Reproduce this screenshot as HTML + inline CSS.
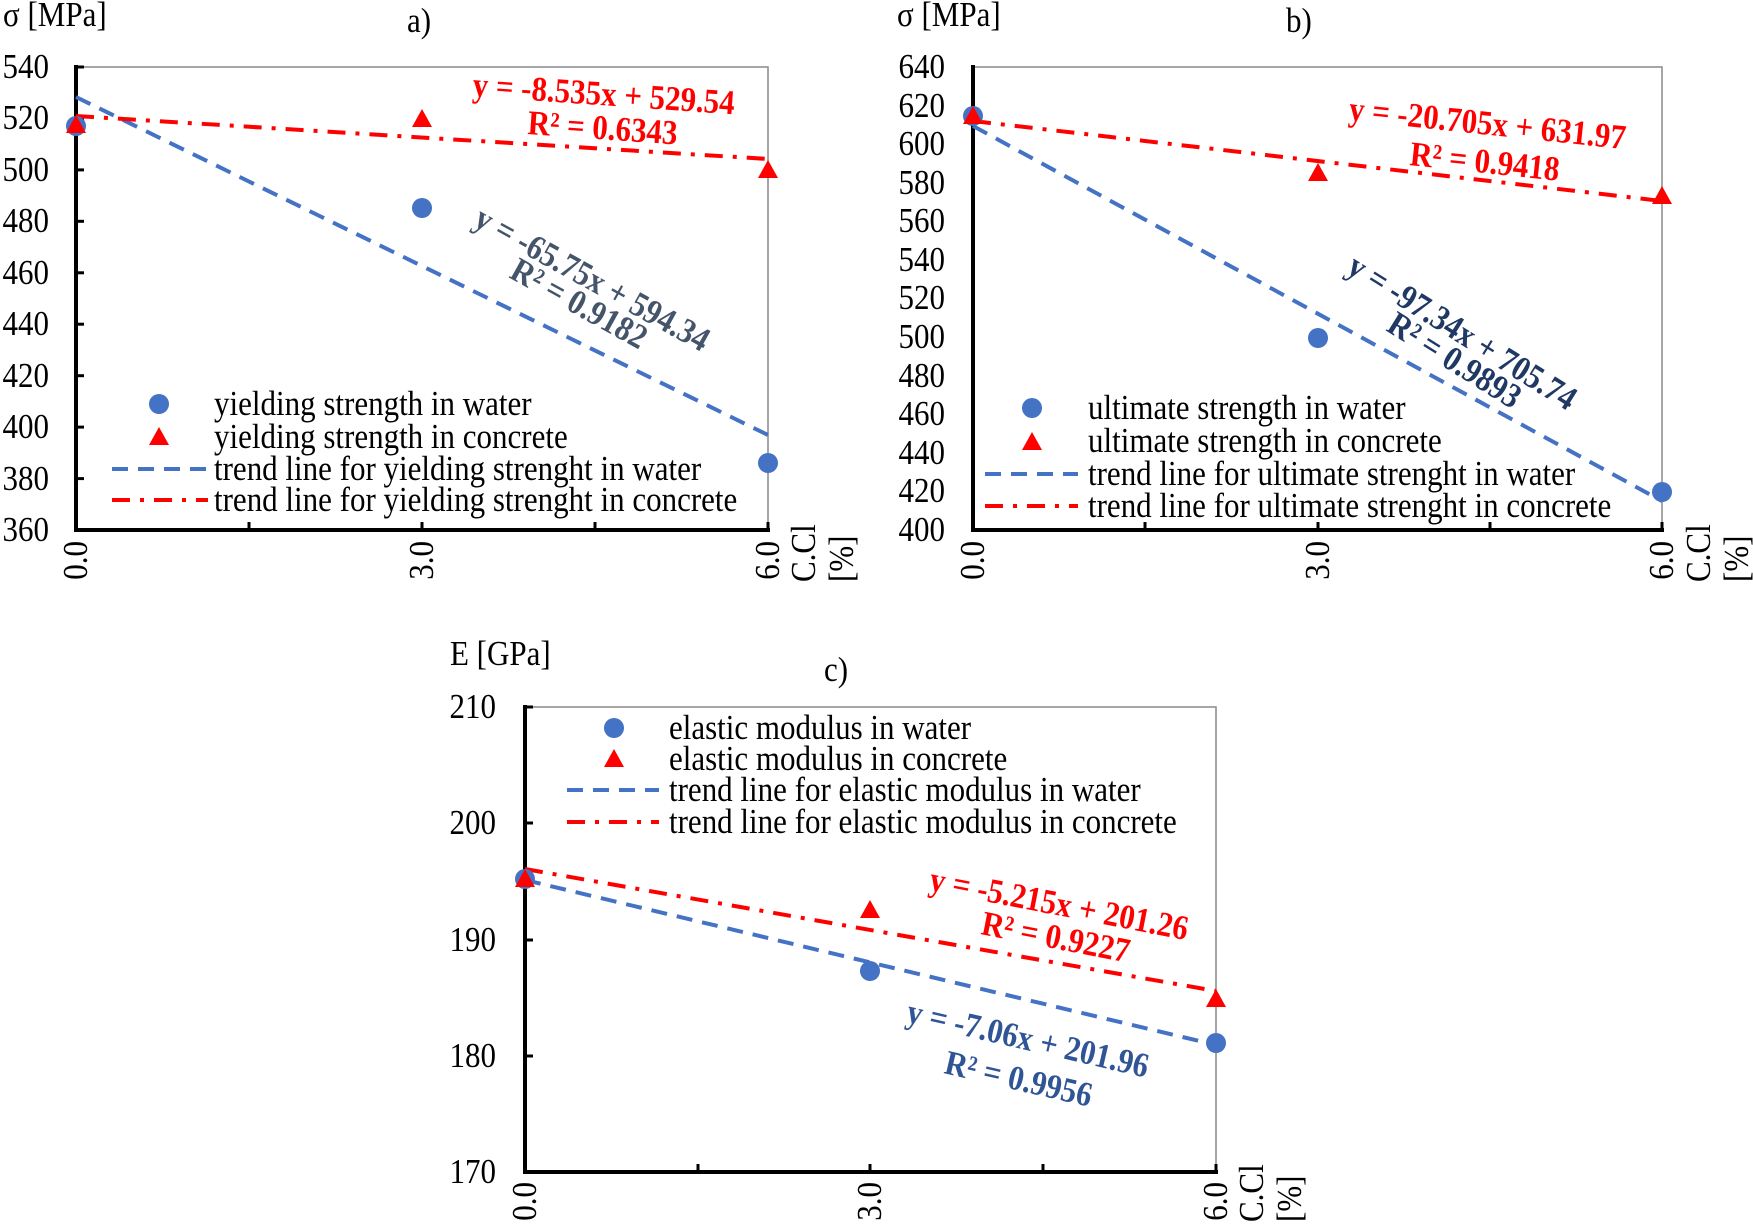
<!DOCTYPE html>
<html><head><meta charset="utf-8"><style>
html,body{margin:0;padding:0;background:#fff}
svg{display:block}
text{font-family:"Liberation Serif",serif;font-size:31px;fill:#000}
.b{font-weight:bold}
</style></head><body>
<svg width="1753" height="1224" viewBox="0 0 1753 1224" xmlns="http://www.w3.org/2000/svg">
<!-- ===== Chart a ===== -->
<g>
<rect x="76" y="67" width="692" height="463" fill="none" stroke="#888" stroke-width="1.5"/>
<line x1="76" y1="65" x2="76" y2="532" stroke="#000" stroke-width="4"/>
<line x1="74" y1="530" x2="770" y2="530" stroke="#000" stroke-width="4"/>
<g stroke="#000" stroke-width="3">
<line x1="76" y1="67" x2="84" y2="67"/><line x1="76" y1="118.4" x2="84" y2="118.4"/><line x1="76" y1="169.9" x2="84" y2="169.9"/><line x1="76" y1="221.3" x2="84" y2="221.3"/><line x1="76" y1="272.8" x2="84" y2="272.8"/><line x1="76" y1="324.2" x2="84" y2="324.2"/><line x1="76" y1="375.7" x2="84" y2="375.7"/><line x1="76" y1="427.1" x2="84" y2="427.1"/><line x1="76" y1="478.6" x2="84" y2="478.6"/>
<line x1="249" y1="530" x2="249" y2="522"/><line x1="422" y1="530" x2="422" y2="522"/><line x1="595" y1="530" x2="595" y2="522"/><line x1="768" y1="530" x2="768" y2="522"/>
</g>
<g text-anchor="end">
<text transform="translate(49,78) scale(1,1.12)">540</text><text transform="translate(49,129) scale(1,1.12)">520</text><text transform="translate(49,181) scale(1,1.12)">500</text><text transform="translate(49,232) scale(1,1.12)">480</text><text transform="translate(49,284) scale(1,1.12)">460</text><text transform="translate(49,335) scale(1,1.12)">440</text><text transform="translate(49,387) scale(1,1.12)">420</text><text transform="translate(49,438) scale(1,1.12)">400</text><text transform="translate(49,490) scale(1,1.12)">380</text><text transform="translate(49,541) scale(1,1.12)">360</text>
</g>
<text transform="translate(3,26) scale(1,1.12)">σ [MPa]</text>
<text transform="translate(407,32) scale(1,1.12)">a)</text>
<text text-anchor="end" transform="translate(87,541) rotate(-90) scale(1,1.12)">0.0</text>
<text text-anchor="end" transform="translate(433,541) rotate(-90) scale(1,1.12)">3.0</text>
<text text-anchor="end" transform="translate(779,541) rotate(-90) scale(1,1.12)">6.0</text>
<text transform="translate(815,582) rotate(-90) scale(1,1.12)">C.Cl</text>
<text transform="translate(853,582) rotate(-90) scale(1,1.12)">[%]</text>
<line x1="76" y1="97" x2="768" y2="435" stroke="#4472C4" stroke-width="4" stroke-dasharray="16 10"/>
<line x1="76" y1="116" x2="768" y2="159" stroke="#FF0000" stroke-width="4" stroke-dasharray="18 10 4 10"/>
<ellipse cx="76" cy="126" rx="10" ry="10" fill="#4472C4"/>
<ellipse cx="422" cy="208" rx="10" ry="10" fill="#4472C4"/>
<ellipse cx="768" cy="463" rx="10" ry="10" fill="#4472C4"/>
<polygon points="76,115 66,133 86,133" fill="#FF0000"/>
<polygon points="422,109 412,127 432,127" fill="#FF0000"/>
<polygon points="768,160 758,178 778,178" fill="#FF0000"/>
<text class="b" style="fill:#FF0000" transform="translate(472,96) rotate(4) scale(1,1.12)">y = -8.535x + 529.54</text>
<text class="b" style="fill:#FF0000" transform="translate(527,134) rotate(4) scale(1,1.12)">R² = 0.6343</text>
<text class="b" style="fill:#44546A" transform="translate(472,225) rotate(29) scale(1,1.12)">y = -65.75x + 594.34</text>
<text class="b" style="fill:#44546A" transform="translate(508,277) rotate(29) scale(1,1.12)">R² = 0.9182</text>
<ellipse cx="159" cy="404" rx="10" ry="10" fill="#4472C4"/>
<polygon points="159,427 149,445 169,445" fill="#FF0000"/>
<line x1="112" y1="469" x2="208" y2="469" stroke="#4472C4" stroke-width="4" stroke-dasharray="16 10"/>
<line x1="112" y1="500" x2="208" y2="500" stroke="#FF0000" stroke-width="4" stroke-dasharray="18 10 4 10"/>
<text transform="translate(214,415) scale(1,1.12)">yielding strength in water</text>
<text transform="translate(214,448) scale(1,1.12)">yielding strength in concrete</text>
<text transform="translate(214,480) scale(1,1.12)">trend line for yielding strenght in water</text>
<text transform="translate(214,511) scale(1,1.12)">trend line for yielding strenght in concrete</text>
</g>
<!-- ===== Chart b ===== -->
<g>
<rect x="973" y="67" width="689" height="463" fill="none" stroke="#888" stroke-width="1.5"/>
<line x1="973" y1="65" x2="973" y2="532" stroke="#000" stroke-width="4"/>
<line x1="971" y1="530" x2="1664" y2="530" stroke="#000" stroke-width="4"/>
<g stroke="#000" stroke-width="3">
<line x1="1145" y1="530" x2="1145" y2="522"/><line x1="1318" y1="530" x2="1318" y2="522"/><line x1="1490" y1="530" x2="1490" y2="522"/><line x1="1662" y1="530" x2="1662" y2="522"/>
</g>
<g text-anchor="end">
<text transform="translate(945,78) scale(1,1.12)">640</text><text transform="translate(945,117) scale(1,1.12)">620</text><text transform="translate(945,155) scale(1,1.12)">600</text><text transform="translate(945,194) scale(1,1.12)">580</text><text transform="translate(945,232) scale(1,1.12)">560</text><text transform="translate(945,271) scale(1,1.12)">540</text><text transform="translate(945,309) scale(1,1.12)">520</text><text transform="translate(945,348) scale(1,1.12)">500</text><text transform="translate(945,387) scale(1,1.12)">480</text><text transform="translate(945,425) scale(1,1.12)">460</text><text transform="translate(945,464) scale(1,1.12)">440</text><text transform="translate(945,502) scale(1,1.12)">420</text><text transform="translate(945,541) scale(1,1.12)">400</text>
</g>
<text transform="translate(897,26) scale(1,1.12)">σ [MPa]</text>
<text transform="translate(1286,32) scale(1,1.12)">b)</text>
<text text-anchor="end" transform="translate(984,541) rotate(-90) scale(1,1.12)">0.0</text>
<text text-anchor="end" transform="translate(1329,541) rotate(-90) scale(1,1.12)">3.0</text>
<text text-anchor="end" transform="translate(1673,541) rotate(-90) scale(1,1.12)">6.0</text>
<text transform="translate(1710,582) rotate(-90) scale(1,1.12)">C.Cl</text>
<text transform="translate(1748,582) rotate(-90) scale(1,1.12)">[%]</text>
<line x1="973" y1="126" x2="1662" y2="501" stroke="#4472C4" stroke-width="4" stroke-dasharray="16 10"/>
<line x1="973" y1="121" x2="1662" y2="201" stroke="#FF0000" stroke-width="4" stroke-dasharray="18 10 4 10"/>
<ellipse cx="973" cy="116" rx="10" ry="10" fill="#4472C4"/>
<ellipse cx="1318" cy="338" rx="10" ry="10" fill="#4472C4"/>
<ellipse cx="1662" cy="492" rx="10" ry="10" fill="#4472C4"/>
<polygon points="973,106 963,124 983,124" fill="#FF0000"/>
<polygon points="1318,163 1308,181 1328,181" fill="#FF0000"/>
<polygon points="1662,186 1652,204 1672,204" fill="#FF0000"/>
<text class="b" style="fill:#FF0000" transform="translate(1348,120) rotate(6) scale(1,1.12)">y = -20.705x + 631.97</text>
<text class="b" style="fill:#FF0000" transform="translate(1409,165) rotate(6) scale(1,1.12)">R² = 0.9418</text>
<text class="b" style="fill:#1F3864" transform="translate(1345,272) rotate(32) scale(1,1.12)">y = -97.34x + 705.74</text>
<text class="b" style="fill:#1F3864" transform="translate(1385,330) rotate(32) scale(1,1.12)">R² = 0.9893</text>
<ellipse cx="1032" cy="408" rx="10" ry="10" fill="#4472C4"/>
<polygon points="1032,432 1022,450 1042,450" fill="#FF0000"/>
<line x1="985" y1="474" x2="1078" y2="474" stroke="#4472C4" stroke-width="4" stroke-dasharray="16 10"/>
<line x1="985" y1="506" x2="1078" y2="506" stroke="#FF0000" stroke-width="4" stroke-dasharray="18 10 4 10"/>
<text transform="translate(1088,419) scale(1,1.12)">ultimate strength in water</text>
<text transform="translate(1088,452) scale(1,1.12)">ultimate strength in concrete</text>
<text transform="translate(1088,485) scale(1,1.12)">trend line for ultimate strenght in water</text>
<text transform="translate(1088,517) scale(1,1.12)">trend line for ultimate strenght in concrete</text>
</g>
<!-- ===== Chart c ===== -->
<g>
<rect x="525" y="707" width="691" height="465" fill="none" stroke="#888" stroke-width="1.5"/>
<line x1="525" y1="705" x2="525" y2="1174" stroke="#000" stroke-width="4"/>
<line x1="523" y1="1172" x2="1218" y2="1172" stroke="#000" stroke-width="4"/>
<g stroke="#000" stroke-width="3">
<line x1="525" y1="707" x2="533" y2="707"/><line x1="525" y1="823" x2="533" y2="823"/><line x1="525" y1="940" x2="533" y2="940"/><line x1="525" y1="1056" x2="533" y2="1056"/>
<line x1="698" y1="1172" x2="698" y2="1164"/><line x1="870" y1="1172" x2="870" y2="1164"/><line x1="1043" y1="1172" x2="1043" y2="1164"/><line x1="1216" y1="1172" x2="1216" y2="1164"/>
</g>
<g text-anchor="end">
<text transform="translate(496,718) scale(1,1.12)">210</text><text transform="translate(496,834) scale(1,1.12)">200</text><text transform="translate(496,951) scale(1,1.12)">190</text><text transform="translate(496,1067) scale(1,1.12)">180</text><text transform="translate(496,1183) scale(1,1.12)">170</text>
</g>
<text transform="translate(450,665) scale(1,1.12)">E [GPa]</text>
<text transform="translate(824,681) scale(1,1.12)">c)</text>
<text text-anchor="end" transform="translate(536,1182) rotate(-90) scale(1,1.12)">0.0</text>
<text text-anchor="end" transform="translate(881,1182) rotate(-90) scale(1,1.12)">3.0</text>
<text text-anchor="end" transform="translate(1227,1182) rotate(-90) scale(1,1.12)">6.0</text>
<text transform="translate(1263,1222) rotate(-90) scale(1,1.12)">C.Cl</text>
<text transform="translate(1301,1222) rotate(-90) scale(1,1.12)">[%]</text>
<line x1="525" y1="880" x2="1216" y2="1045" stroke="#4472C4" stroke-width="4" stroke-dasharray="16 10"/>
<line x1="525" y1="869" x2="1216" y2="991" stroke="#FF0000" stroke-width="4" stroke-dasharray="18 10 4 10"/>
<ellipse cx="525" cy="879" rx="10" ry="10" fill="#4472C4"/>
<ellipse cx="870" cy="971" rx="10" ry="10" fill="#4472C4"/>
<ellipse cx="1216" cy="1043" rx="10" ry="10" fill="#4472C4"/>
<polygon points="525,869 515,887 535,887" fill="#FF0000"/>
<polygon points="870,900 860,918 880,918" fill="#FF0000"/>
<polygon points="1216,989 1206,1007 1226,1007" fill="#FF0000"/>
<text class="b" style="fill:#FF0000" transform="translate(928,890) rotate(11) scale(1,1.12)">y = -5.215x + 201.26</text>
<text class="b" style="fill:#FF0000" transform="translate(980,934) rotate(11) scale(1,1.12)">R² = 0.9227</text>
<text class="b" style="fill:#2F5597" transform="translate(905,1022) rotate(13) scale(1,1.12)">y = -7.06x + 201.96</text>
<text class="b" style="fill:#2F5597" transform="translate(943,1073) rotate(13) scale(1,1.12)">R² = 0.9956</text>
<ellipse cx="614" cy="728" rx="10" ry="10" fill="#4472C4"/>
<polygon points="614,749 604,767 624,767" fill="#FF0000"/>
<line x1="567" y1="790" x2="659" y2="790" stroke="#4472C4" stroke-width="4" stroke-dasharray="16 10"/>
<line x1="567" y1="822" x2="659" y2="822" stroke="#FF0000" stroke-width="4" stroke-dasharray="18 10 4 10"/>
<text transform="translate(669,739) scale(1,1.12)">elastic modulus in water</text>
<text transform="translate(669,770) scale(1,1.12)">elastic modulus in concrete</text>
<text transform="translate(669,801) scale(1,1.12)">trend line for elastic modulus in water</text>
<text transform="translate(669,833) scale(1,1.12)">trend line for elastic modulus in concrete</text>
</g>
</svg>
</body></html>
